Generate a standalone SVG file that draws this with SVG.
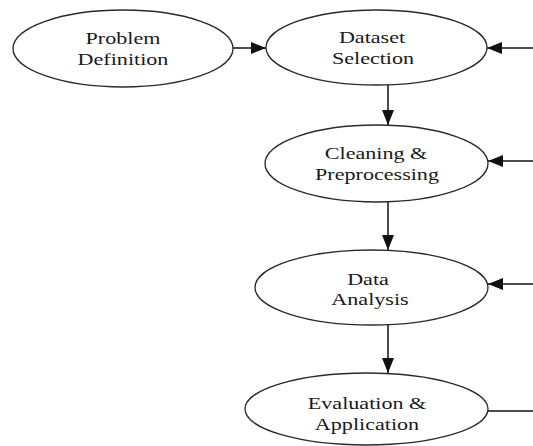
<svg xmlns="http://www.w3.org/2000/svg" width="533" height="446" viewBox="0 0 533 446">
<style>
.node ellipse{fill:#fff;stroke:#2a2a2a;stroke-width:1.3}
.node text{font-family:"Liberation Serif",serif;font-size:17px;fill:#1a1a1a;text-anchor:middle}
.edge{stroke:#111;stroke-width:1.5;fill:none}
</style>
<defs>
<marker id="ah" markerUnits="userSpaceOnUse" markerWidth="16" markerHeight="12" refX="15" refY="6" orient="auto">
<path d="M0,0 L15,6 L0,12 Z" fill="#111"/>
</marker>
</defs>
<rect width="533" height="446" fill="#fff"/>
<g id="connectors">
<line class="edge" x1="233" y1="48" x2="266" y2="48" marker-end="url(#ah)"/>
<line class="edge" x1="533" y1="48" x2="487" y2="48" marker-end="url(#ah)"/>
<line class="edge" x1="388" y1="85" x2="388" y2="125" marker-end="url(#ah)"/>
<line class="edge" x1="533" y1="161" x2="488" y2="161" marker-end="url(#ah)"/>
<line class="edge" x1="388" y1="202" x2="388" y2="250" marker-end="url(#ah)"/>
<line class="edge" x1="533" y1="284" x2="488" y2="284" marker-end="url(#ah)"/>
<line class="edge" x1="388" y1="325" x2="388" y2="373" marker-end="url(#ah)"/>
<line class="edge" x1="488" y1="411" x2="533" y2="411"/>
</g>
<g id="problem" class="node">
<ellipse cx="123" cy="48.5" rx="110" ry="38.5"/>
<text transform="translate(123,44) scale(1.3,1)">Problem</text>
<text transform="translate(123,65) scale(1.3,1)">Definition</text>
</g>
<g id="dataset" class="node">
<ellipse cx="376.5" cy="47.5" rx="110.5" ry="37.5"/>
<text transform="translate(372,43) scale(1.3,1)">Dataset</text>
<text transform="translate(373,64) scale(1.3,1)">Selection</text>
</g>
<g id="cleaning" class="node">
<ellipse cx="376.5" cy="163.5" rx="111.5" ry="38.5"/>
<text transform="translate(376,159) scale(1.3,1)">Cleaning &amp;</text>
<text transform="translate(377,180) scale(1.3,1)">Preprocessing</text>
</g>
<g id="analysis" class="node">
<ellipse cx="371.5" cy="287.5" rx="116.5" ry="37.5"/>
<text transform="translate(368,285) scale(1.3,1)">Data</text>
<text transform="translate(370,305) scale(1.3,1)">Analysis</text>
</g>
<g id="evaluation" class="node">
<ellipse cx="366.5" cy="409" rx="121.5" ry="36"/>
<text transform="translate(367,409) scale(1.3,1)">Evaluation &amp;</text>
<text transform="translate(367,430) scale(1.3,1)">Application</text>
</g>
</svg>
